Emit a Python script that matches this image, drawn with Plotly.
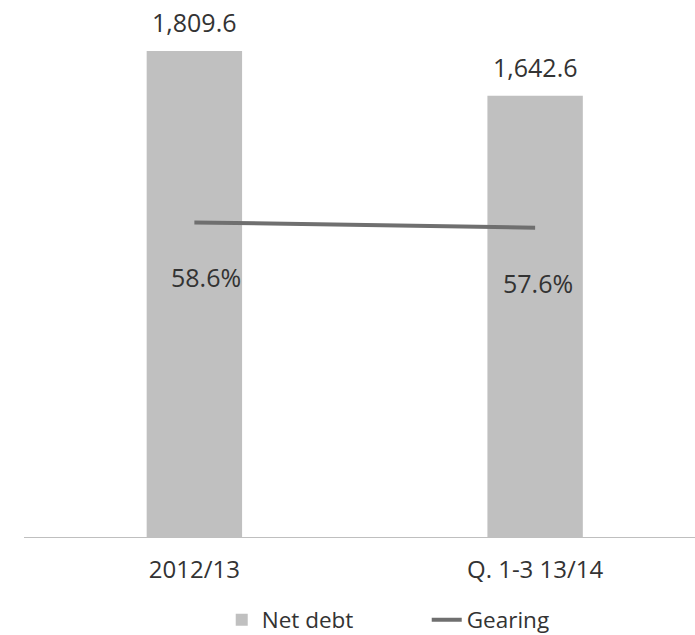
import plotly.graph_objects as go

categories = ["2012/13", "Q. 1-3 13/14"]
net_debt = [1809.6, 1642.6]
gearing = [58.6, 57.6]

FONT = "Open Sans"
TEXT = "#333333"
PCT_XSHIFT = [12, 3]

fig = go.Figure()
fig.add_trace(go.Bar(
    x=categories, y=net_debt, name="Net debt",
    marker=dict(color="#c0c0c0", line=dict(width=0)),
    yaxis="y",
))
fig.add_trace(go.Scatter(
    x=categories, y=gearing, name="Gearing", mode="lines",
    line=dict(color="#6f6f6f", width=4),
    yaxis="y2",
))

annotations = []
for c, v in zip(categories, net_debt):
    annotations.append(dict(x=c, y=v, xref="x", yref="y", text=f"{v:,.1f}",
                            showarrow=False, yanchor="middle", yshift=29,
                            font=dict(family=FONT, size=25, color=TEXT)))
for c, v, xs in zip(categories, gearing, PCT_XSHIFT):
    annotations.append(dict(x=c, y=v, xref="x", yref="y2", text=f"{v:.1f}%",
                            showarrow=False, yanchor="middle", yshift=-55, xshift=xs,
                            font=dict(family=FONT, size=25, color=TEXT)))

fig.update_layout(
    width=695, height=635,
    margin=dict(l=23.5, r=0, t=10, b=97.7),
    paper_bgcolor="white", plot_bgcolor="white",
    font=dict(family=FONT, size=24, color=TEXT),
    bargap=0.72,
    showlegend=True,
    legend=dict(orientation="h", xref="container", yref="container",
                x=0.614, xanchor="center", y=0.0236, yanchor="middle",
                font=dict(family=FONT, size=22.5, color=TEXT),
                entrywidth=160, traceorder="normal"),
    xaxis=dict(range=[-0.5, 1.4692], showgrid=False, zeroline=False,
               showline=True, linecolor="#bfbfbf", linewidth=1,
               ticks="", ticklabelstandoff=11, automargin=False,
               tickfont=dict(family=FONT, size=24, color=TEXT)),
    yaxis=dict(range=[0, 1962.2], visible=False, showgrid=False, zeroline=False,
               automargin=False),
    yaxis2=dict(range=[0, 98.16], overlaying="y", side="right", visible=False,
                showgrid=False, zeroline=False, automargin=False),
    annotations=annotations,
)

fig.write_html("out.html", config={"displayModeBar": False},
               post_script="document.body.style.margin='0';")
